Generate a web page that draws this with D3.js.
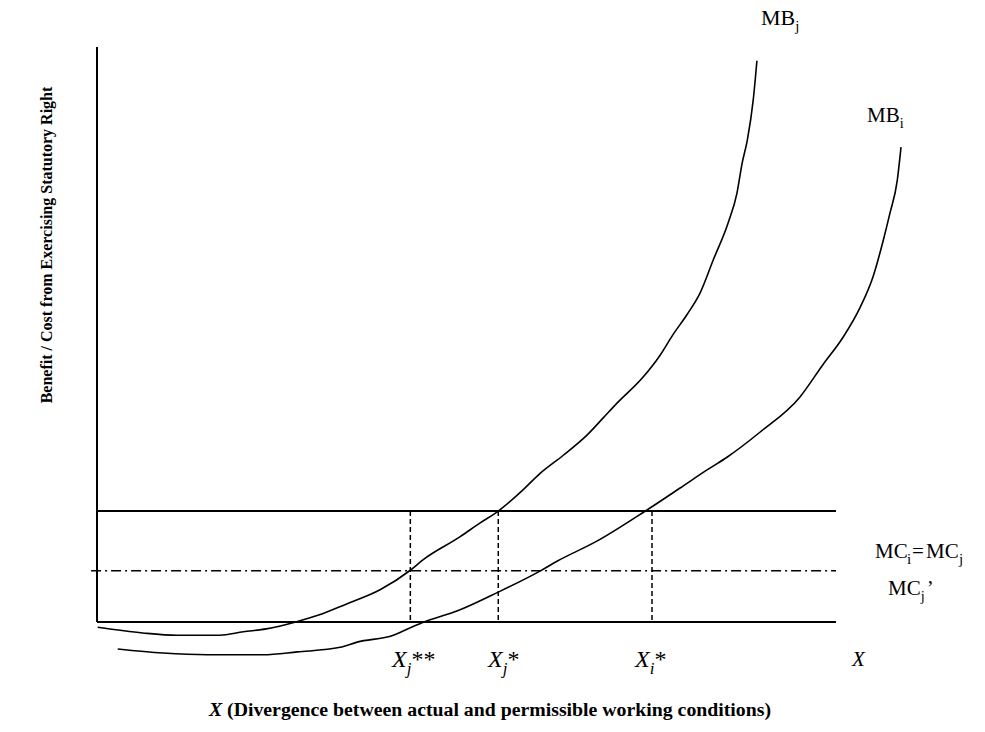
<!DOCTYPE html>
<html>
<head>
<meta charset="utf-8">
<script src="https://cdn.jsdelivr.net/npm/d3@7"></script>
<style>
  body { margin: 0; background: #fff; }
  svg text { font-family: "Liberation Serif", "Times New Roman", serif; fill: #000; }
</style>
</head>
<body>
<div class="chart"></div>
<script>
// curve points (x: divergence, y: benefit/cost, both 0..100 on the drawn axes)
const mbjX = [0.1, 6.2, 10.8, 16.6, 19.8, 22.9, 26.9, 30.0, 33.7, 38.3, 42.4, 44.1, 49.1, 51.8, 54.3, 57.5, 60.0, 63.1, 66.3, 68.5, 70.4, 73.9, 76.2, 77.9, 79.8, 81.6, 83.4, 85.4, 86.6, 87.3, 88.0, 88.8, 89.3];
const mbjY = [-0.9, -1.9, -2.3, -2.3, -1.7, -1.2, 0.0, 1.2, 3.1, 5.6, 9.0, 10.8, 14.8, 17.2, 19.3, 22.8, 25.9, 29.0, 32.5, 35.5, 38.1, 42.6, 46.4, 49.9, 53.4, 57.2, 63.0, 69.4, 74.6, 79.8, 83.8, 90.8, 97.6];
const mbiX = [2.8, 8.9, 14.9, 22.5, 27.1, 32.9, 35.2, 40.1, 42.4, 44.7, 48.7, 54.3, 60.0, 62.3, 67.7, 74.2, 78.9, 82.5, 85.3, 89.7, 95.1, 98.2, 101.0, 103.3, 105.0, 106.4, 107.3, 108.3, 108.8];
const mbiY = [-4.7, -5.4, -5.7, -5.7, -5.2, -4.4, -3.5, -2.3, -1.0, 0.2, 1.9, 5.2, 8.9, 10.6, 14.1, 19.3, 23.3, 26.4, 28.7, 33.0, 39.1, 44.7, 49.6, 54.8, 60.0, 66.4, 71.1, 76.9, 82.6];

// cost levels and equilibrium points
const mcLevel = 19.3;      // MC_i = MC_j
const mcjPrimeLevel = 8.9; // MC_j'
const eqNames = ['j**', 'j*', 'i*'];
const eqX = [42.4, 54.3, 75.1];

const width = 985, height = 732;

const x = d3.scaleLinear().domain([0, 100]).range([97, 836]);
const y = d3.scaleLinear().domain([0, 100]).range([622, 47]);

const svg = d3.select('.chart')
  .append('svg')
  .attr('width', width)
  .attr('height', height);

// axes (plain lines, no ticks)
svg.append('line')
  .attr('x1', x(0)).attr('x2', x(0))
  .attr('y1', y(100)).attr('y2', y(0))
  .attr('stroke', '#000').attr('stroke-width', 2);
svg.append('line')
  .attr('x1', x(0)).attr('x2', x(100))
  .attr('y1', y(0)).attr('y2', y(0))
  .attr('stroke', '#000').attr('stroke-width', 2);

// MC lines
svg.append('line')
  .attr('x1', x(0)).attr('x2', x(100))
  .attr('y1', y(mcLevel)).attr('y2', y(mcLevel))
  .attr('stroke', '#000').attr('stroke-width', 2);
svg.append('line')
  .attr('x1', x(-0.8)).attr('x2', x(100))
  .attr('y1', y(mcjPrimeLevel)).attr('y2', y(mcjPrimeLevel))
  .attr('stroke', '#000').attr('stroke-width', 1.5)
  .attr('stroke-dasharray', '10,4,2,4');

// dashed verticals
svg.selectAll('.eq')
  .data(eqX)
  .enter()
  .append('line')
  .attr('class', 'eq')
  .attr('x1', d => x(d)).attr('x2', d => x(d))
  .attr('y1', y(mcLevel)).attr('y2', y(0))
  .attr('stroke', '#000').attr('stroke-width', 1.5)
  .attr('stroke-dasharray', '5,3');

// MB curves
const line = d3.line()
  .x(d => x(d[0]))
  .y(d => y(d[1]))
  .curve(d3.curveMonotoneX);

svg.append('path')
  .datum(d3.zip(mbjX, mbjY))
  .attr('d', line)
  .attr('fill', 'none').attr('stroke', '#000').attr('stroke-width', 1.6);
svg.append('path')
  .datum(d3.zip(mbiX, mbiY))
  .attr('d', line)
  .attr('fill', 'none').attr('stroke', '#000').attr('stroke-width', 1.6);

// label with a subscript and optional trailing text
function subLabel(px, py, main, sub, size, tail) {
  const t = svg.append('text')
    .attr('x', px).attr('y', py)
    .style('font-size', size + 'px');
  t.append('tspan').text(main);
  t.append('tspan').attr('dy', size * 0.28).style('font-size', (size * 0.68) + 'px').text(sub);
  if (tail) t.append('tspan').attr('dx', 2).attr('dy', -size * 0.28).text(tail);
  return t;
}

subLabel(761, 25, 'MB', 'j', 22);
subLabel(867, 122, 'MB', 'i', 21);

// MC_i=MC_j, glyphs spaced like the original
const mcText = svg.append('text').attr('y', 558).style('font-size', '21px');
mcText.append('tspan').attr('x', 875).text('MC');
mcText.append('tspan').attr('x', 907).attr('dy', 6).style('font-size', '15px').text('i');
mcText.append('tspan').attr('x', 912).attr('dy', -6).text('=');
mcText.append('tspan').attr('x', 926).text('MC');
mcText.append('tspan').attr('x', 959).attr('dy', 6).style('font-size', '15px').text('j');

subLabel(888, 595, 'MC', 'j', 21, '’');

svg.append('text')
  .attr('x', 852).attr('y', 666)
  .style('font-size', '21px').style('font-style', 'italic')
  .text('X');

// equilibrium labels
const starX = [392, 488, 635];
eqNames.forEach((n, i) => {
  const t = svg.append('text')
    .attr('x', starX[i]).attr('y', 667)
    .style('font-size', '24px');
  t.append('tspan').style('font-style', 'italic').text('X');
  t.append('tspan').attr('dy', 7).style('font-size', '17px').style('font-style', 'italic').text(n[0]);
  t.append('tspan').attr('dy', -7).text(n.slice(1));
});

// axis titles
const xt = svg.append('text')
  .attr('x', 490).attr('y', 716)
  .attr('text-anchor', 'middle')
  .style('font-size', '19.8px').style('font-weight', 'bold');
xt.append('tspan').style('font-style', 'italic').text('X');
xt.append('tspan').text(' (Divergence between actual and permissible working conditions)');

svg.append('text')
  .attr('transform', 'translate(52,245) rotate(-90)')
  .attr('text-anchor', 'middle')
  .style('font-size', '16px').style('font-weight', 'bold')
  .text('Benefit / Cost from Exercising Statutory Right');
</script>
</body>
</html>
